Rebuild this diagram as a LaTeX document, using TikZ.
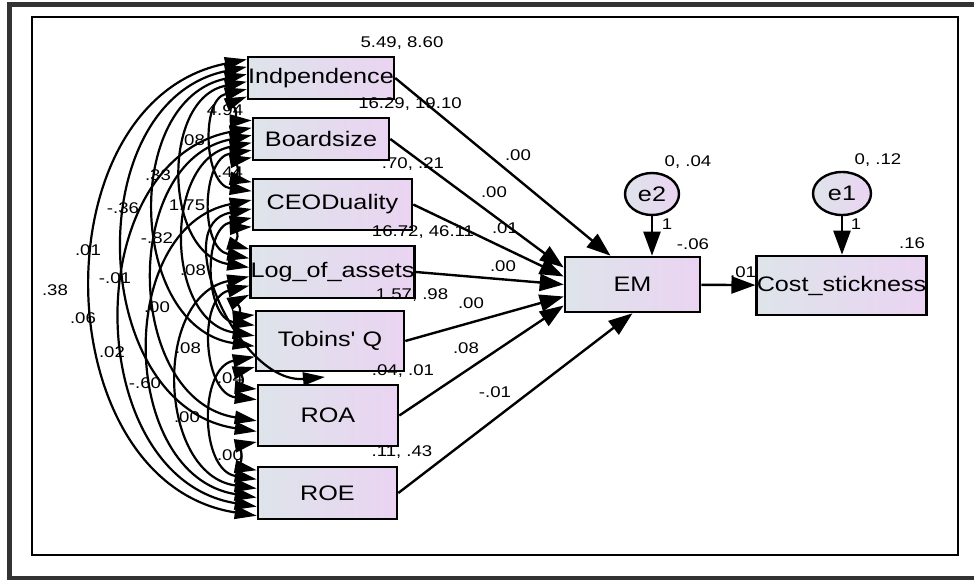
\documentclass[tikz,border=0pt]{standalone}
\usepackage{fontspec}
\setmainfont{Liberation Sans}[FakeStretch=1.2,Ligatures=TeXOff]
\usetikzlibrary{arrows.meta,shapes.geometric,calc}
\definecolor{boxl}{RGB}{222,228,234}
\definecolor{boxr}{RGB}{234,212,242}
\definecolor{framegray}{RGB}{51,51,51}
\tikzset{
  var/.style={rectangle,draw,line width=2.6pt,left color=boxl,right color=boxr,inner sep=0pt,font=\fontsize{21}{24}\selectfont},
  err/.style={ellipse,draw,line width=2.4pt,left color=boxl,right color=boxr,inner sep=0pt,font=\fontsize{21}{24}\selectfont},
  lbl/.style={inner sep=0pt,font=\fontsize{15.5}{18}\selectfont},
  reg/.style={line width=2.4pt,-{Triangle[length=24pt,width=17pt]}},
  cov/.style={line width=2.2pt,{Triangle[length=22pt,width=13pt]}-{Triangle[length=22pt,width=13pt]}}
}
\begin{document}
\begin{tikzpicture}[x=1pt,y=1pt]
        \useasboundingbox (0,0) rectangle (974,-580);
        \clip (0,0) rectangle (974,-580);
        \draw[framegray,line width=5pt] (9.5,-5) rectangle (1000,-578.5);
        \draw[line width=2.2pt] (32,-17) rectangle (958,-555);
        \node[var,minimum width=136pt,minimum height=42pt] (v1) at (321,-78) {Indpendence};
        \node[var,minimum width=136pt,minimum height=42pt] (v2) at (321,-139) {Boardsize};
        \node[var,minimum width=159pt,minimum height=51pt] (v3) at (332.5,-204.5) {CEODuality};
        \node[var,minimum width=159pt,minimum height=52pt] (v4) at (332.5,-272) {Log\_of\_assets};
        \node[var,minimum width=148pt,minimum height=60pt] (v5) at (330,-341) {Tobins' Q};
        \node[var,minimum width=140pt,minimum height=61pt] (v6) at (328,-415.5) {ROA};
        \node[var,minimum width=139pt,minimum height=52pt] (v7) at (327.5,-493) {ROE};
        \node[var,minimum width=135pt,minimum height=55pt] (em) at (632.5,-284.5) {EM};
        \node[var,minimum width=161pt,minimum height=59pt] (cost) at (841.5,-285.5) {Cost\_stickness};
        \node[err,minimum width=54pt,minimum height=42pt] (e2) at (652,-194) {e2};
        \node[err,minimum width=58pt,minimum height=43pt] (e1) at (842,-193.5) {e1};
        \node[lbl] (w1) at (402,-43) {5.49, 8.60};
        \node[lbl] (w2) at (410,-104) {16.29, 19.10};
        \node[lbl] (w3) at (413,-164) {.70, .21};
        \node[lbl] (w4) at (423,-232) {16.72, 46.11};
        \node[lbl] (w5) at (412,-295) {1.57, .98};
        \node[lbl] (w6) at (403,-371) {.04, .01};
        \node[lbl] (w7) at (402,-452) {.11, .43};
        \node[lbl] (we2) at (688,-162) {0, .04};
        \node[lbl] (we1) at (878,-160) {0, .12};
        \node[lbl] (wem) at (693,-244) {-.06};
        \node[lbl] (wcost) at (912,-243) {.16};
        \node[lbl] (p1) at (518,-155) {.00};
        \node[lbl] (p2) at (494,-192) {.00};
        \node[lbl] (p3) at (505,-228) {.01};
        \node[lbl] (p4) at (503,-266) {.00};
        \node[lbl] (p5) at (471,-303) {.00};
        \node[lbl] (p6) at (466,-348) {.08};
        \node[lbl] (p7) at (495,-392) {-.01};
        \node[lbl] (p8) at (743,-272) {.01};
        \node[lbl] (f2) at (667,-224) {1};
        \node[lbl] (f1) at (856,-224) {1};
        \node[lbl] (c12) at (225,-110) {4.94};
        \node[lbl] (c13) at (192,-140) {.08};
        \node[lbl] (c23) at (227,-172) {-.44};
        \node[lbl] (c14) at (158,-175) {.33};
        \node[lbl] (c15) at (123,-208) {-.36};
        \node[lbl] (c24) at (187,-205) {1.75};
        \node[lbl] (c25) at (157,-238) {-.82};
        \node[lbl] (c16) at (88,-250) {.01};
        \node[lbl] (c26) at (115,-278) {-.01};
        \node[lbl] (c17) at (55,-290) {.38};
        \node[lbl] (c35) at (193,-270) {.08};
        \node[lbl] (c36) at (157,-307) {.00};
        \node[lbl] (c27) at (83,-318) {.06};
        \node[lbl] (c37) at (112,-352) {.02};
        \node[lbl] (c46) at (188,-348) {.08};
        \node[lbl] (c47) at (145,-383) {-.60};
        \node[lbl] (c57) at (187,-417) {.00};
        \node[lbl] (c56) at (230,-378) {.04};
        \node[lbl] (c67) at (230,-455) {.00};
        \draw[reg] (v1.east) -- ([xshift=-22pt]em.north);
        \draw[reg] (v2.east) -- ([yshift=17pt]em.west);
        \draw[reg] (v3.east) -- ([yshift=8pt]em.west);
        \draw[reg] (v4.east) -- (em.west);
        \draw[reg] (v5.east) -- ([yshift=-12pt]em.west);
        \draw[reg] (v6.east) -- ([yshift=-21pt]em.west);
        \draw[reg] (v7.east) -- (em.south);
        \draw[reg] (em) -- (cost);
        \draw[reg] (e2) -- (e2 |- em.north);
        \draw[reg] (e1) -- (e1 |- cost.north);
        \foreach \i in {1,...,6}{
          \pgfmathtruncatemacro\ja{\i+1}
          \foreach \j in {\ja,...,7}{
            \pgfmathsetmacro\fri{(\i-1+7-\j+0.5)/6}
            \pgfmathsetmacro\frj{(\j-1-\i+0.5)/6}
            \pgfmathtruncatemacro\oddarc{(\i==3)&&(\j==6)}
            \ifnum\oddarc=0
              \draw[cov] ($(v\i.north west)!\fri!(v\i.south west)$) to[bend right=80,looseness=1.2] ($(v\j.north west)!\frj!(v\j.south west)$);
            \fi
          }
        }
        \draw[cov] ($(v3.north west)!0.583!(v3.south west)$) to[out=190,in=185,looseness=1.2] (325,-377);
      \end{tikzpicture}
\end{document}
